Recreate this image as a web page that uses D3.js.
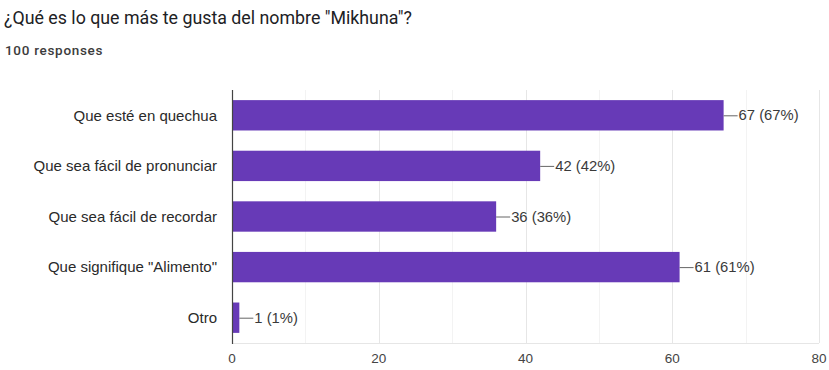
<!DOCTYPE html>
<html>
<head>
<meta charset="utf-8">
<script src="https://cdn.jsdelivr.net/npm/d3@7"></script>
<style>
  html, body { margin: 0; padding: 0; background: #fff; }
  svg { display: block; }
</style>
</head>
<body>
<svg id="chart" width="829" height="370"></svg>
<script>
// Survey answers and counts
const categories = [
  "Que esté en quechua",
  "Que sea fácil de pronunciar",
  "Que sea fácil de recordar",
  "Que signifique \"Alimento\"",
  "Otro"
];
const counts = [67, 42, 36, 61, 1];
const totalResponses = 100;
const xTicks = [0, 20, 40, 60, 80];
const xMinorTicks = [10, 30, 50, 70];

const svg = d3.select("#chart");

// Header
svg.append("text")
  .attr("x", 4).attr("y", 24)
  .attr("font-family", "Roboto, 'Noto Sans', sans-serif")
  .attr("font-size", 17.8)
  .attr("fill", "#202124")
  .text("¿Qué es lo que más te gusta del nombre \"Mikhuna\"?");

svg.append("text")
  .attr("x", 5).attr("y", 55)
  .attr("font-family", "Roboto, 'Noto Sans', sans-serif")
  .attr("font-size", 13.5)
  .attr("font-weight", 500)
  .attr("letter-spacing", 0.7)
  .attr("fill", "#3c3c3c")
  .text(totalResponses + " responses");

// Plot area
const plotL = 232, plotR = 819, plotT = 90, plotB = 343;
const x = d3.scaleLinear().domain([0, 80]).range([plotL, plotR]);
const y = d3.scaleBand().domain(categories).range([plotT, plotB]).paddingInner(0.4).paddingOuter(0.2);

const font = "'Liberation Sans', Arial, sans-serif";

// Gridlines
const grid = svg.append("g");
grid.selectAll("line.minor").data(xMinorTicks).join("line")
  .attr("x1", d => Math.round(x(d)) + 0.5).attr("x2", d => Math.round(x(d)) + 0.5)
  .attr("y1", plotT).attr("y2", plotB)
  .attr("stroke", "#f3f3f3").attr("stroke-width", 1);
grid.selectAll("line.major").data(xTicks.slice(1)).join("line")
  .attr("x1", d => Math.round(x(d)) + 0.5).attr("x2", d => Math.round(x(d)) + 0.5)
  .attr("y1", plotT).attr("y2", plotB)
  .attr("stroke", "#e6e6e6").attr("stroke-width", 1);
grid.append("line")
  .attr("x1", plotL).attr("x2", plotR)
  .attr("y1", plotB + 0.5).attr("y2", plotB + 0.5)
  .attr("stroke", "#e6e6e6");

// Bars
svg.append("g").selectAll("rect").data(categories).join("rect")
  .attr("x", x(0))
  .attr("y", d => y(d))
  .attr("width", (d, i) => x(counts[i]) - x(0))
  .attr("height", y.bandwidth())
  .attr("fill", "#673ab7");

// Baseline
svg.append("line")
  .attr("x1", plotL + 0.5).attr("x2", plotL + 0.5)
  .attr("y1", plotT).attr("y2", plotB + 1)
  .attr("stroke", "#444").attr("stroke-width", 1.2);

// Category labels
svg.append("g").selectAll("text").data(categories).join("text")
  .attr("x", plotL - 15)
  .attr("y", d => y(d) + y.bandwidth() / 2)
  .attr("dy", "0.35em")
  .attr("text-anchor", "end")
  .attr("font-family", font)
  .attr("font-size", 15)
  .attr("fill", "#2a2a2a")
  .text(d => d);

// Value labels with leader lines
const vals = svg.append("g");
categories.forEach((c, i) => {
  const xe = x(counts[i]);
  const yc = y(c) + y.bandwidth() / 2;
  vals.append("line")
    .attr("x1", xe).attr("x2", xe + 14)
    .attr("y1", yc + 0.5).attr("y2", yc + 0.5)
    .attr("stroke", "#666").attr("stroke-width", 1);
  vals.append("text")
    .attr("x", xe + 15).attr("y", yc).attr("dy", "0.35em")
    .attr("font-family", font).attr("font-size", 14.8)
    .attr("fill", "#3a3a3a")
    .text(`${counts[i]} (${Math.round(counts[i] / totalResponses * 100)}%)`);
});

// X axis tick labels
svg.append("g").selectAll("text").data(xTicks).join("text")
  .attr("x", d => x(d))
  .attr("y", 363)
  .attr("text-anchor", "middle")
  .attr("font-family", font).attr("font-size", 13.5)
  .attr("fill", "#444")
  .text(d => d);
</script>
</body>
</html>
